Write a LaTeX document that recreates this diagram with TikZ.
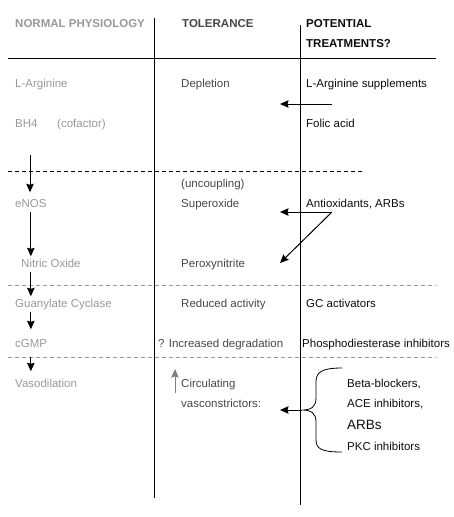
\documentclass[tikz,border=0pt]{standalone}
\usepackage{fontspec}
\setmainfont{Liberation Sans}
\usetikzlibrary{arrows.meta}
\definecolor{normgray}{gray}{0.6}
\definecolor{tolgray}{gray}{0.28}
\definecolor{treatgray}{gray}{0.05}
\definecolor{dashgray}{gray}{0.6}
\tikzset{
	cell/.style = {
		anchor=base west,
		inner sep=2pt,
		font=\fontsize{11.5}{13}\selectfont,
		text height=8.5pt,
		text depth=2.5pt
	},
	cell_norm/.style = {
		cell,
		normgray
	},
	cell_tol/.style = {
		cell,
		tolgray
	},
	cell_treat/.style = {
		cell,
		treatgray
	},
	cell_big/.style = {
		cell_treat,
		font=\fontsize{13.5}{15}\selectfont
	},
	head_norm/.style = {
		cell_norm,
		font=\fontsize{11.5}{13}\selectfont\bfseries
	},
	head_tol/.style = {
		cell_tol,
		font=\fontsize{11.5}{13}\selectfont\bfseries
	},
	head_treat/.style = {
		cell_treat,
		font=\fontsize{11.5}{13}\selectfont\bfseries
	},
	rule/.style = {
		draw=black,
		line width=0.9pt
	},
	rule_dash/.style = {
		rule,
		dash pattern=on 4pt off 3pt
	},
	rule_dash_gray/.style = {
		rule_dash,
		draw=dashgray
	},
	flow/.style = {
		->,
		line width=1pt
	},
	flow_gray/.style = {
		flow,
		draw=gray
	}
}

\begin{document}
\begin{tikzpicture}[x=1pt, y=-1pt, >={Stealth[length=8.5pt, width=7.5pt, inset=1pt]}]
\useasboundingbox (0,0) rectangle (454,517);
% headings
\node [head_norm] (h_norm) at (13,27) {NORMAL PHYSIOLOGY};
\node [head_tol] (h_tol) at (180,27) {TOLERANCE};
\node [head_treat] (h_pot) at (304,27) {POTENTIAL};
\node [head_treat] (h_treat) at (304,47) {TREATMENTS?};
% grid lines
\coordinate (v1_top) at (154,18);
\coordinate (v1_bot) at (154,498);
\coordinate (v2_top) at (300,25);
\coordinate (v2_bot) at (300,505);
\coordinate (top_l) at (8,58);
\coordinate (top_r) at (436,58);
\coordinate (d1_l) at (8,171);
\coordinate (d1_r) at (362,171);
\coordinate (d2_l) at (8,285);
\coordinate (d2_r) at (436,285);
\coordinate (d3_l) at (8,357);
\coordinate (d3_r) at (436,357);
\draw [rule] (v1_top) -- (v1_bot);
\draw [rule] (v2_top) -- (v2_bot);
\draw [rule] (top_l) -- (top_r);
\draw [rule_dash] (d1_l) -- (d1_r);
\draw [rule_dash_gray] (d2_l) -- (d2_r);
\draw [rule_dash_gray] (d3_l) -- (d3_r);
% rows
\node [cell_norm] (n_larg) at (13,87) {L-Arginine};
\node [cell_tol] (t_depl) at (179,87) {Depletion};
\node [cell_treat] (p_larg) at (304,87) {L-Arginine supplements};
\node [cell_norm] (n_bh4) at (13,127) {BH4};
\node [cell_norm] (n_cof) at (55,127) {(cofactor)};
\node [cell_treat] (p_folic) at (304,127) {Folic acid};
\node [cell_tol] (t_unc) at (179,187) {(uncoupling)};
\node [cell_norm] (n_enos) at (13,207) {eNOS};
\node [cell_tol] (t_super) at (179,207) {Superoxide};
\node [cell_treat] (p_antiox) at (304,207) {Antioxidants, ARBs};
\node [cell_norm] (n_no) at (19,267) {Nitric Oxide};
\node [cell_tol] (t_perox) at (179,267) {Peroxynitrite};
\node [cell_norm] (n_gc) at (13,307) {Guanylate Cyclase};
\node [cell_tol] (t_red) at (179,307) {Reduced activity};
\node [cell_treat] (p_gc) at (304,307) {GC activators};
\node [cell_norm] (n_cgmp) at (13,347) {cGMP};
\node [cell_tol] (t_deg) at (156,347) {? Increased degradation};
\node [cell_treat] (p_pde) at (300,347) {Phosphodiesterase inhibitors};
\node [cell_norm] (n_vaso) at (13,387) {Vasodilation};
\node [cell_tol] (t_circ) at (179,387) {Circulating};
\node [cell_tol] (t_vasoc) at (179,407) {vasconstrictors:};
\node [cell_treat] (p_beta) at (345,387) {Beta-blockers,};
\node [cell_treat] (p_ace) at (345,407) {ACE inhibitors,};
\node [cell_big] (p_arbs) at (345,429) {ARBs};
\node [cell_treat] (p_pkc) at (345,450) {PKC inhibitors};
% pathway arrows
\coordinate (a_start) at (30,155);
\draw [flow, shorten >=4pt] (a_start) -- (a_start |- n_enos.north);
\draw [flow] (n_enos.south) -- (n_enos.south |- n_no.north);
\draw [flow] (n_enos.south |- n_no.south) -- (n_enos.south |- n_gc.north);
\draw [flow, shorten >=7pt] (n_enos.south |- n_gc.south) -- (n_enos.south |- n_cgmp.north);
\draw [flow, shorten <=5pt, shorten >=5pt] (n_enos.south |- n_cgmp.south) -- (n_enos.south |- n_vaso.north);
% treatment arrows
\coordinate (bh4_from) at (332,104);
\coordinate (bh4_to) at (280,104);
\draw [flow] (bh4_from) -- (bh4_to);
\coordinate (ao_fork) at (332,212);
\coordinate (ao_sup) at (280,212);
\coordinate (ao_per) at (280,263);
\draw [flow] (ao_fork) -- (ao_sup);
\draw [flow] (ao_fork) -- (ao_per);
% brace
\coordinate (br_top) at (342,368);
\coordinate (br_mid) at (302,410);
\coordinate (br_bot) at (342,452);
\coordinate (vc_tip) at (280,410);
\draw [line width=0.8pt] (br_top) .. controls (322,368) and (316,372) .. (316,382)
	-- (316,398) .. controls (316,407) and (311,410) .. (br_mid)
	.. controls (311,410) and (316,413) .. (316,422)
	-- (316,440) .. controls (316,449) and (322,452) .. (br_bot);
\draw [flow] (br_mid) -- (vc_tip);
% increase marker
\coordinate (up_from) at (175,393);
\coordinate (up_to) at (175,369);
\draw [flow_gray] (up_from) -- (up_to);
\end{tikzpicture}
\end{document}
